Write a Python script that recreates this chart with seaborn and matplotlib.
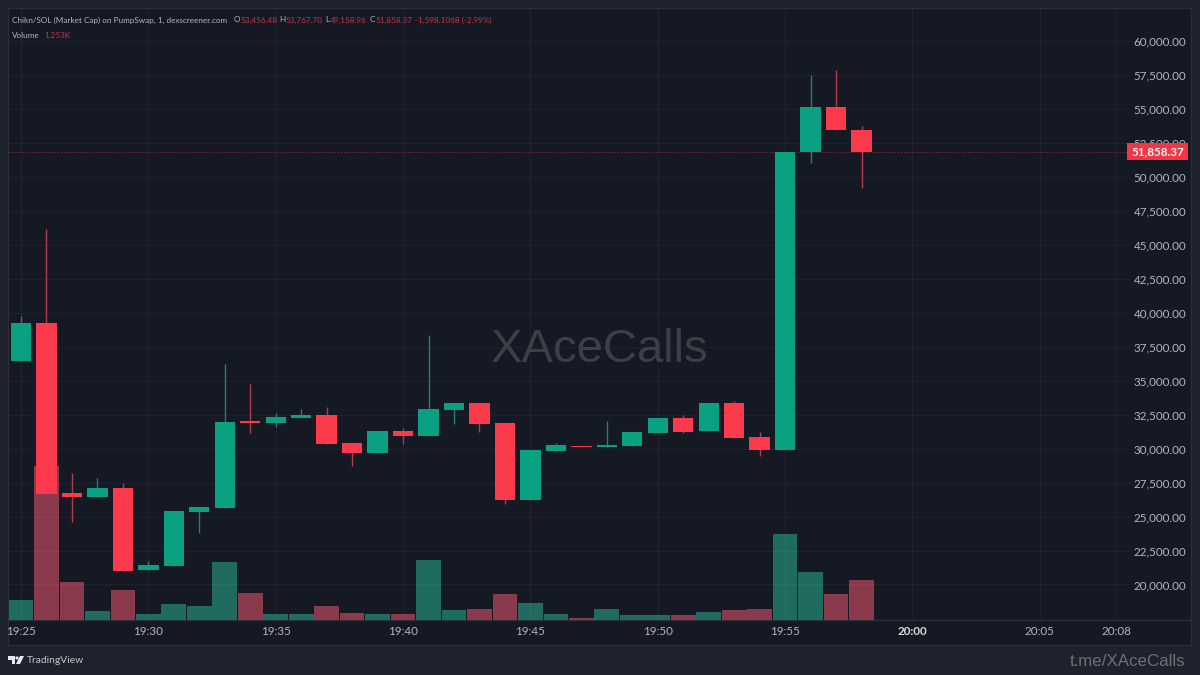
import matplotlib
matplotlib.use("Agg")
import matplotlib.pyplot as plt
from matplotlib.patches import Polygon, Circle, Rectangle
import pandas as pd
import seaborn as sns

# one candle per minute, starting 19:25
opens = [36450, 39246, 26734, 26440, 27102, 21067, 21362, 25336, 25630, 32034, 31886, 32254,
         32475, 30414, 29678, 31298, 30930, 32843, 33358, 31886, 26219, 29826, 30194, 30120,
         30194, 31150, 32254, 31298, 33358, 30856, 29899, 51858, 55144, 53456]
closes = [39246, 26661, 26440, 27102, 20994, 21435, 25410, 25704, 31960, 31886, 32328, 32475,
          30341, 29678, 31298, 30930, 32917, 33358, 31813, 26219, 29899, 30267, 30120, 30267,
          31224, 32254, 31224, 33358, 30782, 29899, 51858, 55144, 53456, 51858]
highs = [39762, 46165, 28206, 27838, 27470, 21730, 25410, 25704, 36229, 34757, 32622, 32917,
         33064, 30414, 31298, 31518, 38363, 33358, 33358, 31886, 29899, 30414, 30194, 32034,
         31224, 32254, 32475, 33358, 33506, 31224, 51858, 57499, 57867, 53767]
lows = [36450, 26661, 24600, 26440, 20994, 21067, 21362, 23790, 25630, 31150, 31592, 32254,
        30341, 28722, 29678, 30341, 30930, 31813, 31224, 25925, 26219, 29826, 30120, 30120,
        30194, 31150, 31150, 31298, 30782, 29458, 29899, 51022, 53456, 49158]
volumes_k = [0.63, 4.82, 1.19, 0.28, 0.94, 0.19, 0.50, 0.44, 1.82, 0.85, 0.19, 0.19,
             0.44, 0.23, 0.20, 0.20, 1.89, 0.31, 0.36, 0.80, 0.52, 0.19, 0.05, 0.36,
             0.16, 0.16, 0.16, 0.25, 0.31, 0.36, 2.69, 1.50, 0.80, 1.253]

price_ticks = list(range(20000, 60001, 2500))
time_ticks = [0, 5, 10, 15, 20, 25, 30, 35, 40, 43]
time_labels = ["19:25", "19:30", "19:35", "19:40", "19:45", "19:50", "19:55", "20:00", "20:05", "20:08"]
last_price = 51858.37

UP = "#0aa183"
DOWN = "#fb3a4b"
UP_WICK = "#1f8272"
DOWN_WICK = "#b53a4c"
UP_VOL = "#1f6b60"
DOWN_VOL = "#8a3a4a"
PANE = "#151924"
OUTER = "#1e222d"
LINE = "#2a2e39"
TEXT = "#b4b6be"
RED_TEXT = "#c83245"

sns.set_theme(style="dark", rc={"axes.facecolor": PANE, "figure.facecolor": OUTER})
plt.rcParams["font.family"] = ["Lato", "DejaVu Sans"]

df = pd.DataFrame({"minute": range(len(opens)), "open": opens, "close": closes,
                   "high": highs, "low": lows, "volume": volumes_k})
df["direction"] = ["up" if c > o else "down" for o, c in zip(opens, closes)]

fig = plt.figure(figsize=(12, 6.75), dpi=100)

# chrome behind the chart, in pixels
bg = fig.add_axes([0, 0, 1, 1], zorder=0)
bg.set_xlim(0, 1200)
bg.set_ylim(675, 0)
bg.axis("off")
bg.add_patch(Rectangle((8, 8), 1183, 637, facecolor=PANE, edgecolor=LINE, lw=1))
bg.plot([8, 1191], [620, 620], color=LINE, lw=1)

# volume underneath
left, right, top, bottom = 8, 1130, 8, 620
rect = [left / 1200, 1 - bottom / 675, (right - left) / 1200, (bottom - top) / 675]
ax_vol = fig.add_axes(rect, zorder=1)
ax_vol.patch.set_visible(False)
sns.barplot(data=df, x="minute", y="volume", hue="direction", native_scale=True,
            palette={"up": UP_VOL, "down": DOWN_VOL}, hue_order=["up", "down"],
            dodge=False, width=0.97, saturation=1, legend=False, linewidth=0, ax=ax_vol)
ax_vol.set_ylim(0, 19.16)
ax_vol.set_xlim(-0.51, 43.54)
ax_vol.set_yticks([])
ax_vol.set_ylabel("")
ax_vol.set_xlabel("")
ax_vol.set_xticks(time_ticks)
ax_vol.set_xticklabels(time_labels)
ax_vol.tick_params(axis="x", length=0, pad=4, labelsize=8.4, labelcolor=TEXT)
ax_vol.get_xticklabels()[7].set_color("#d8dae0")
ax_vol.get_xticklabels()[7].set_fontweight("bold")
sns.despine(ax=ax_vol, left=True, bottom=True, right=True, top=True)

# price candles on top
ax = fig.add_axes(rect, zorder=2, sharex=ax_vol)
ax.patch.set_visible(False)
ax.set_ylim(17387, 62430)
ax.grid(True, color="white", alpha=0.045, lw=0.8)
ax.set_axisbelow(True)
ax.yaxis.tick_right()
ax.set_yticks(price_ticks)
ax.set_yticklabels([f"{p:,.2f}" for p in price_ticks])
ax.tick_params(axis="y", length=0, pad=2.5, labelsize=8.4, labelcolor=TEXT)
ax.tick_params(axis="x", length=0, labelbottom=False)
sns.despine(ax=ax, left=True, bottom=True, right=True, top=True)

wick_colors = [UP_WICK if d == "up" else DOWN_WICK for d in df["direction"]]
body_colors = [UP if d == "up" else DOWN for d in df["direction"]]
ax.vlines(df["minute"], df["low"], df["high"], colors=wick_colors, lw=1.0, zorder=3)
ax.bar(df["minute"], (df["close"] - df["open"]).abs(), bottom=df[["open", "close"]].min(axis=1),
       width=0.8, color=body_colors, linewidth=0, zorder=4)

ax.axhline(last_price, color=DOWN, lw=0.7, ls=(0, (1, 2)), alpha=0.6, zorder=2)

# header, watermarks and logo on a layer above
fg = fig.add_axes([0, 0, 1, 1], zorder=3)
fg.set_xlim(0, 1200)
fg.set_ylim(675, 0)
fg.axis("off")

fg.add_patch(Rectangle((1127, 143), 61, 17, facecolor="#f23645", edgecolor="none"))
fg.text(1157.5, 151.5, f"{last_price:,.2f}", color="white", fontsize=8.4, fontweight="bold",
        ha="center", va="center")

def hdr(x, y, s, c):
    fg.text(x, y, s, color=c, fontsize=5.9, va="center", ha="left")

hdr(12, 20, "Chikn/SOL (Market Cap) on PumpSwap, 1, dexscreener.com", TEXT)
hdr(234, 20, "O", TEXT)
hdr(240, 20, "53,456.48", RED_TEXT)
hdr(279, 20, "H", TEXT)
hdr(285, 20, "53,767.70", RED_TEXT)
hdr(325, 20, "L", TEXT)
hdr(330, 20, "49,158.96", RED_TEXT)
hdr(370, 20, "C", TEXT)
hdr(375, 20, "51,858.37", RED_TEXT)
hdr(415, 20, "-1,598.1068 (-2.99%)", RED_TEXT)
hdr(12, 35, "Volume", TEXT)
hdr(44, 35, "1.253K", RED_TEXT)

fg.text(599.5, 350, "XAceCalls", color="#3c3e48", fontsize=34, ha="center", va="center",
        family="Liberation Sans", zorder=1)
fg.text(1185, 661, "t.me/XAceCalls", color="#6e7078", fontsize=12.2, ha="right", va="center",
        family="Liberation Sans")
fg.text(27, 660.5, "TradingView", color="#c4c6cc", fontsize=7.4, ha="left", va="center")

logo = "#e8e9ec"
fg.add_patch(Polygon([(8, 656), (15, 656), (15, 664), (12, 664), (12, 660), (8, 660)], color=logo, lw=0))
fg.add_patch(Circle((17, 658), 1.6, color=logo, lw=0))
fg.add_patch(Polygon([(20, 656), (24, 656), (20, 664), (16, 664)], color=logo, lw=0))

fig.savefig("out.png", dpi=100, facecolor=OUTER)
